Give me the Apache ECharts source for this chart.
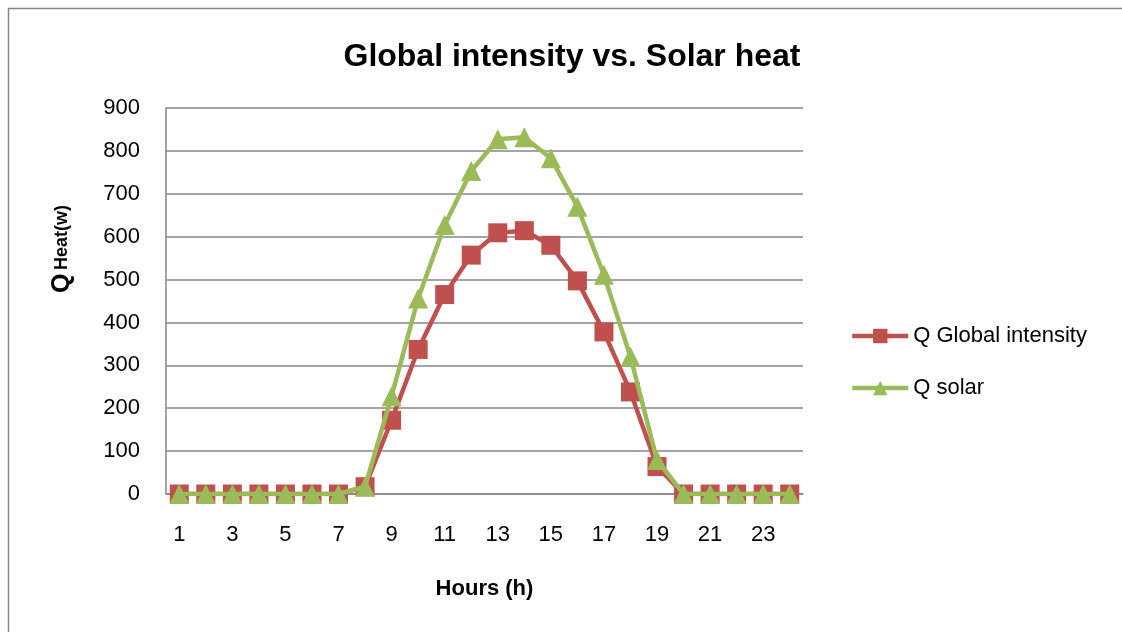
<!DOCTYPE html>
<html>
<head>
<meta charset="utf-8">
<script src="https://cdn.jsdelivr.net/npm/echarts@6/dist/echarts.min.js"></script>
<style>
html,body{margin:0;padding:0;background:#fff;}
#chart{width:1122px;height:632px;}
</style>
</head>
<body>
<div id="chart"></div>
<script>
const hours = ['1','2','3','4','5','6','7','8','9','10','11','12','13','14','15','16','17','18','19','20','21','22','23','24'];
const globalIntensity = [0,0,0,0,0,0,0,17,172,337,465,557,609,614,580,497,378,238,64,0,0,0,0,0];
const solar = [0,0,0,0,0,0,0,17,228,456,627,753,827,832,783,670,511,320,79,0,0,0,0,0];
const yTicks = {min:0, max:900, interval:100};
const FONT = '"Liberation Sans", Arial, sans-serif';

const chart = echarts.init(document.getElementById('chart'));
chart.setOption({
  backgroundColor:'#fff',
  animation:false,
  title:{
    text:'Global intensity vs. Solar heat',
    left:567, textAlign:'center', top:36,
    textStyle:{fontFamily:FONT, fontWeight:'bold', fontSize:32, color:'#000'}
  },
  graphic:[
    {type:'rect', shape:{x:8.5,y:8.5,width:1200,height:700}, style:{fill:null, stroke:'#868686', lineWidth:1.5}, silent:true},
    {type:'text', x:62, y:249, rotation:Math.PI/2,
     style:{text:'{q|Q} {h|Heat(w)}', align:'center', verticalAlign:'middle',
       rich:{q:{fontFamily:FONT, fontWeight:'bold', fontSize:25, fill:'#000'},
             h:{fontFamily:FONT, fontWeight:'bold', fontSize:18, fill:'#000'}}}}
  ],
  legend:{
    orient:'vertical', left:845, top:320,
    itemWidth:56, itemHeight:18, itemGap:30,
    lineStyle:{width:4.5},
    textStyle:{fontFamily:FONT, fontSize:22, color:'#000'},
    data:['Q Global intensity','Q solar']
  },
  grid:{left:166, right:319, top:108, bottom:138, containLabel:false},
  xAxis:{
    type:'category', data:hours, boundaryGap:true,
    name:'Hours (h)', nameLocation:'middle', nameGap:84,
    nameTextStyle:{fontFamily:FONT, fontWeight:'bold', fontSize:22, color:'#000'},
    axisLine:{lineStyle:{color:'#868686', width:1.5}},
    axisTick:{show:false},
    axisLabel:{interval:1, margin:30, fontFamily:FONT, fontSize:22, color:'#000'},
    splitLine:{show:false}
  },
  yAxis:{
    type:'value', min:yTicks.min, max:yTicks.max, interval:yTicks.interval,
    axisLine:{show:true, lineStyle:{color:'#868686', width:1.5}},
    axisTick:{show:false},
    axisLabel:{margin:26, fontFamily:FONT, fontSize:22, color:'#000'},
    splitLine:{lineStyle:{color:'#868686', width:1.5}}
  },
  series:[
    {name:'Q Global intensity', type:'line', data:globalIntensity,
     symbol:'rect', symbolSize:19, showAllSymbol:true, itemStyle:{color:'#C0504D'},
     lineStyle:{color:'#C0504D', width:4.5}, z:2},
    {name:'Q solar', type:'line', data:solar,
     symbol:'triangle', symbolSize:20, showAllSymbol:true, itemStyle:{color:'#9BBB59'},
     lineStyle:{color:'#9BBB59', width:4.5}, z:3}
  ]
});
</script>
</body>
</html>
